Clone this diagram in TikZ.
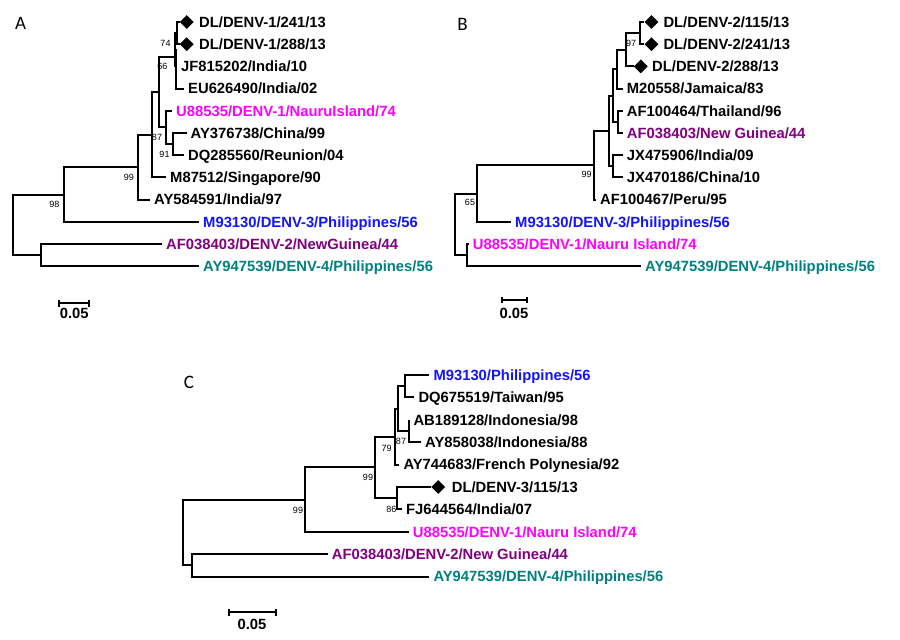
\documentclass[tikz,border=0pt]{standalone}
\usepackage{fontspec}
\setmainfont{Liberation Sans}
\newfontfamily\lblfont{Carlito}
\usetikzlibrary{shapes.geometric}
\definecolor{magc}{RGB}{255,0,255}
\definecolor{bluec}{RGB}{20,20,255}
\definecolor{purpc}{RGB}{128,0,128}
\definecolor{tealc}{RGB}{0,128,128}
\begin{document}
\begin{tikzpicture}[x=1pt,y=-1pt,
  br/.style={line width=2pt, line join=miter},
  lf/.style={anchor=west, inner xsep=4pt, inner ysep=0pt, text height=10.6pt, text depth=0pt, font=\fontsize{14.8}{16}\selectfont\bfseries},
  bsv/.style={inner sep=0pt, font=\fontsize{9}{10}\selectfont},
  dia/.style={diamond, fill=black, minimum size=14pt, inner sep=0pt},
  pl/.style={inner sep=0pt, font=\lblfont\fontsize{19}{20}\selectfont},
  sb/.style={line width=2pt}]
\fill[white] (0,0) rectangle (900,640);
\useasboundingbox (0,0) rectangle (900,640);

% ================= Panel A =================
\node[pl] (pA) at (20.5,23.5) {A};
\node[dia] (a1d) at (186.7,22) {};
\node[lf, inner xsep=0pt] (a1) at (199,22) {DL/DENV-1/241/13};
\node[dia] (a2d) at (186.7,44.2) {};
\node[lf, inner xsep=0pt] (a2) at (199,44.2) {DL/DENV-1/288/13};
\node[lf] (a3) at (177,66.4) {JF815202/India/10};
\node[lf] (a4) at (184,88.6) {EU626490/India/02};
\node[lf, text=magc] (a5) at (172,110.8) {U88535/DENV-1/NauruIsland/74};
\node[lf] (a6) at (186.5,133) {AY376738/China/99};
\node[lf] (a7) at (184,155.2) {DQ285560/Reunion/04};
\node[lf] (a8) at (166,177.4) {M87512/Singapore/90};
\node[lf] (a9) at (150,199.6) {AY584591/India/97};
\node[lf, text=bluec] (a10) at (199,221.8) {M93130/DENV-3/Philippines/56};
\node[lf, text=purpc] (a11) at (162,244) {AF038403/DENV-2/NewGuinea/44};
\node[lf, text=tealc] (a12) at (199,266.2) {AY947539/DENV-4/Philippines/56};

\coordinate (an1) at (176.5,33.1);
\coordinate (an2) at (174.8,49.75);
\coordinate (an3) at (175.5,56.7);
\coordinate (a172) at (172.7,144.1);
\coordinate (a166) at (166,127.45);
\coordinate (a159) at (159,92.1);
\coordinate (a151) at (151.7,134.75);
\coordinate (a138) at (138.3,167.2);
\coordinate (aU) at (64.3,194.5);
\coordinate (aL) at (41,255.1);
\coordinate (aR) at (13.3,224.8);

\draw[br] (an1) |- (a1d.west); \draw[br] (an1) |- (a2d.west);
\draw[br] (an2) |- (an1); \draw[br] (an2) |- (a3.west);
\draw[br] (an3) |- (an2); \draw[br] (an3) |- (a4.west);
\draw[br] (a159) |- (an3); \draw[br] (a159) |- (a166);
\draw[br] (a166) |- (a5.west); \draw[br] (a166) |- (a172);
\draw[br] (a172) |- (a6.west); \draw[br] (a172) |- (a7.west);
\draw[br] (a151) |- (a159); \draw[br] (a151) |- (a8.west);
\draw[br] (a138) |- (a151); \draw[br] (a138) |- (a9.west);
\draw[br] (aU) |- (a138); \draw[br] (aU) |- (a10.west);
\draw[br] (aR) |- (aU); \draw[br] (aR) |- (aL);
\draw[br] (aL) |- (a11.west); \draw[br] (aL) |- (a12.west);

\node[bsv] (ab1) at (165.5,43.5) {74};
\node[bsv] (ab2) at (162.5,66) {66};
\node[bsv] (ab3) at (157,137) {87};
\node[bsv] (ab4) at (164.5,154.5) {91};
\node[bsv] (ab5) at (129,177) {99};
\node[bsv] (ab6) at (54.5,204) {98};

\coordinate (asl) at (59.3,303.3);
\coordinate (asr) at (89.3,303.3);
\draw[sb] (asl) -- (asr);
\draw[sb] ([yshift=3.4pt]asl) -- ([yshift=-3.4pt]asl);
\draw[sb] ([yshift=3.4pt]asr) -- ([yshift=-3.4pt]asr);
\node[lf, inner xsep=0pt, anchor=center] (as) at (74.3,313.5) {0.05};

% ================= Panel B =================
\node[pl] (pB) at (462.5,24.5) {B};
\node[dia] (b1d) at (651.5,22) {};
\node[lf, inner xsep=0pt] (b1) at (663.3,22) {DL/DENV-2/115/13};
\node[dia] (b2d) at (651.5,44.2) {};
\node[lf, inner xsep=0pt] (b2) at (663.3,44.2) {DL/DENV-2/241/13};
\node[dia] (b3d) at (640.8,66.4) {};
\node[lf, inner xsep=0pt] (b3) at (652,66.4) {DL/DENV-2/288/13};
\node[lf] (b4) at (622.7,88.6) {M20558/Jamaica/83};
\node[lf] (b5) at (622.7,110.8) {AF100464/Thailand/96};
\node[lf, text=purpc] (b6) at (622.7,133) {AF038403/New Guinea/44};
\node[lf] (b7) at (622.7,155.2) {JX475906/India/09};
\node[lf] (b8) at (622.7,177.4) {JX470186/China/10};
\node[lf] (b9) at (596,199.6) {AF100467/Peru/95};
\node[lf, text=bluec] (b10) at (511,221.8) {M93130/DENV-3/Philippines/56};
\node[lf, text=magc] (b11) at (468.7,244) {U88535/DENV-1/Nauru Island/74};
\node[lf, text=tealc] (b12) at (641,266.2) {AY947539/DENV-4/Philippines/56};

\coordinate (b639) at (639.5,33.1);
\coordinate (b625) at (625.5,49.75);
\coordinate (b615) at (616.5,69.2);
\coordinate (bAF) at (617.5,121.9);
\coordinate (bP) at (612.5,95.55);
\coordinate (bJX) at (613.3,166.3);
\coordinate (bQ) at (609,130.9);
\coordinate (b594) at (594,165.25);
\coordinate (bU) at (476.7,193.5);
\coordinate (bL) at (466.7,255.1);
\coordinate (bR) at (455,224.3);

\draw[br] (b639) |- (b1d.west); \draw[br] (b639) |- (b2d.west);
\draw[br] (b625) |- (b639); \draw[br] (b625) |- (b3d.west);
\draw[br] (b615) |- (b625); \draw[br] (b615) |- (b4.west);
\draw[br] (bAF) |- (b5.west); \draw[br] (bAF) |- (b6.west);
\draw[br] (bP) |- (b615); \draw[br] (bP) |- (bAF);
\draw[br] (bJX) |- (b7.west); \draw[br] (bJX) |- (b8.west);
\draw[br] (bQ) |- (bP); \draw[br] (bQ) |- (bJX);
\draw[br] (b594) |- (bQ); \draw[br] (b594) |- (b9.west);
\draw[br] (bU) |- (b594); \draw[br] (bU) |- (b10.west);
\draw[br] (bL) |- (b11.west); \draw[br] (bL) |- (b12.west);
\draw[br] (bR) |- (bU); \draw[br] (bR) |- (bL);

\node[bsv] (bb1) at (631,43.5) {97};
\node[bsv] (bb2) at (586.7,174) {99};
\node[bsv] (bb3) at (470,202.7) {65};

\coordinate (bsl) at (501.7,300);
\coordinate (bsr) at (527.3,300);
\draw[sb] (bsl) -- (bsr);
\draw[sb] ([yshift=3.4pt]bsl) -- ([yshift=-3.4pt]bsl);
\draw[sb] ([yshift=3.4pt]bsr) -- ([yshift=-3.4pt]bsr);
\node[lf, inner xsep=0pt, anchor=center] (bs) at (514,312.7) {0.05};

% ================= Panel C =================
\node[pl] (pC) at (189,382) {C};
\node[lf, text=bluec] (c1) at (429.3,375) {M93130/Philippines/56};
\node[lf] (c2) at (414.3,397.4) {DQ675519/Taiwan/95};
\node[lf] (c3) at (409.3,419.8) {AB189128/Indonesia/98};
\node[lf] (c4) at (421,442.2) {AY858038/Indonesia/88};
\node[lf] (c5) at (399.3,464.6) {AY744683/French Polynesia/92};
\node[dia] (c6d) at (438.3,487) {};
\node[lf, inner xsep=0pt] (c6) at (451.7,487) {DL/DENV-3/115/13};
\node[lf] (c7) at (402,509.4) {FJ644564/India/07};
\node[lf, text=magc] (c8) at (408.7,531.8) {U88535/DENV-1/Nauru Island/74};
\node[lf, text=purpc] (c9) at (327.7,554.2) {AF038403/DENV-2/New Guinea/44};
\node[lf, text=tealc] (c10) at (429.3,576.6) {AY947539/DENV-4/Philippines/56};

\coordinate (cMD) at (405,386.2);
\coordinate (cAB) at (409.3,431);
\coordinate (cX) at (398.3,408.6);
\coordinate (cY) at (395,436.6);
\coordinate (cDF) at (396.7,498.2);
\coordinate (cZ) at (375,467.4);
\coordinate (cW) at (305,499.6);
\coordinate (cL) at (191.7,565.4);
\coordinate (cR) at (183.3,532.5);

\draw[br] (cMD) |- (c1.west); \draw[br] (cMD) |- (c2.west);
\draw[br] (cAB) |- (c3.west); \draw[br] (cAB) |- (c4.west);
\draw[br] (cX) |- (cMD); \draw[br] (cX) |- (cAB);
\draw[br] (cY) |- (cX); \draw[br] (cY) |- (c5.west);
\draw[br] (cDF) |- (c6d.west); \draw[br] (cDF) |- (c7.west);
\draw[br] (cZ) |- (cY); \draw[br] (cZ) |- (cDF);
\draw[br] (cW) |- (cZ); \draw[br] (cW) |- (c8.west);
\draw[br] (cL) |- (c9.west); \draw[br] (cL) |- (c10.west);
\draw[br] (cR) |- (cW); \draw[br] (cR) |- (cL);

\node[bsv] (cb1) at (401,441.7) {87};
\node[bsv] (cb2) at (386.7,448.3) {79};
\node[bsv] (cb3) at (368,477.3) {99};
\node[bsv] (cb4) at (391.3,509.3) {86};
\node[bsv] (cb5) at (298,510) {99};

\coordinate (csl) at (229.3,612.3);
\coordinate (csr) at (276,612.3);
\draw[sb] (csl) -- (csr);
\draw[sb] ([yshift=3.4pt]csl) -- ([yshift=-3.4pt]csl);
\draw[sb] ([yshift=3.4pt]csr) -- ([yshift=-3.4pt]csr);
\node[lf, inner xsep=0pt, anchor=center] (cs) at (252,624) {0.05};
\end{tikzpicture}
\end{document}
